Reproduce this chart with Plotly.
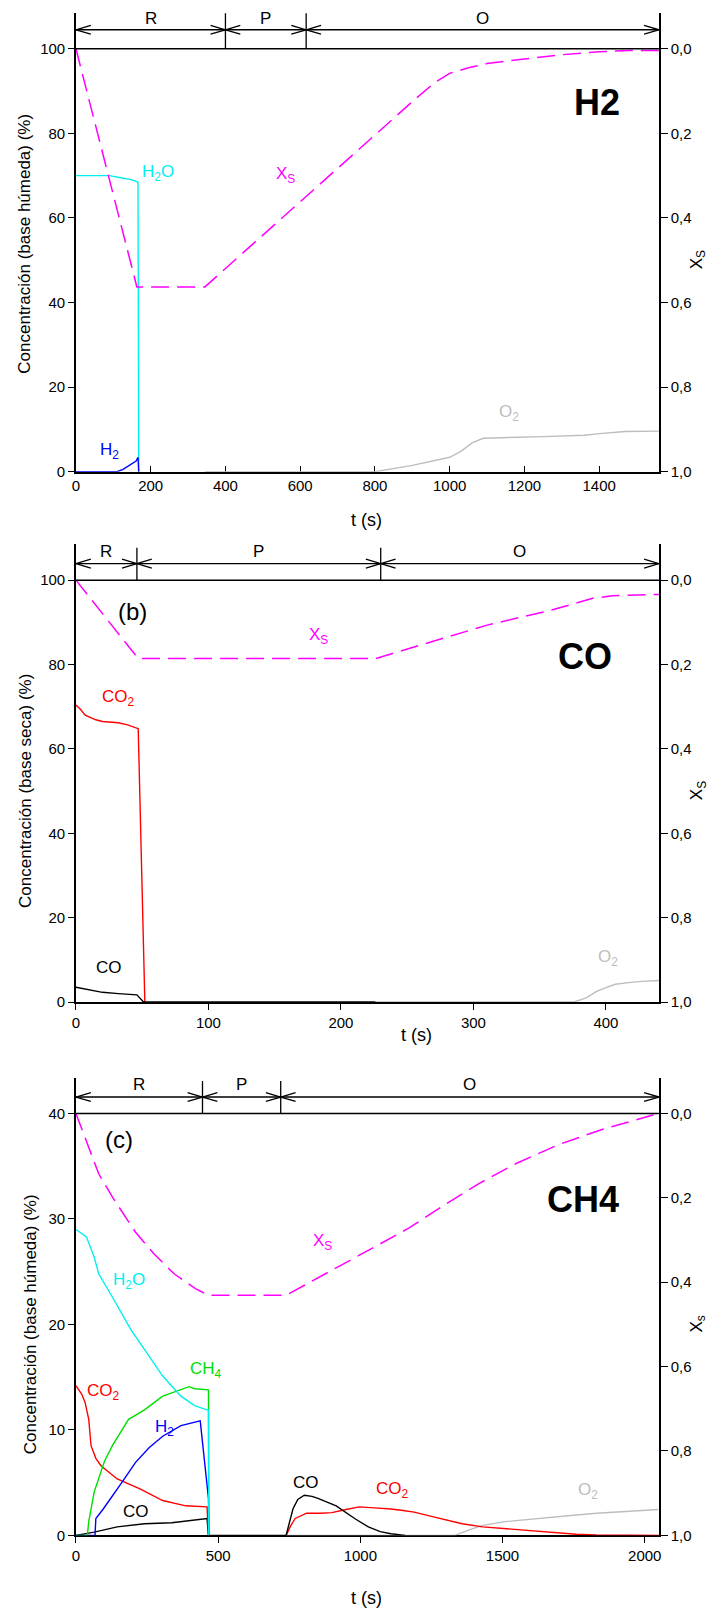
import plotly.graph_objects as go

# ================= DATA =================
# ---- Panel (a): H2 ----
h2_t_h2o = [0, 90, 120, 150, 166, 168]
h2_h2o = [70, 70, 69.5, 69.0, 68.5, 0]
h2_t_h2 = [0, 110, 126, 148, 161, 166, 168]
h2_h2 = [0, 0, 0.55, 1.7, 2.5, 3.4, 0]
h2_t_o2 = [345, 800, 900, 1000, 1030, 1060, 1090, 1150, 1250, 1360, 1400, 1470, 1560]
h2_o2 = [0, 0, 1.5, 3.4, 4.8, 6.8, 7.9, 8.0, 8.3, 8.6, 9.0, 9.5, 9.6]
h2_t_xs = [0, 163, 345, 816, 900, 960, 1000, 1050, 1100, 1200, 1300, 1400, 1480, 1560]
h2_xs = [0, 0.563, 0.563, 0.19, 0.125, 0.08, 0.058, 0.045, 0.035, 0.024, 0.014, 0.007, 0.004, 0.004]
h2_phase_t = [0, 400, 616, 1560]
h2_phase_lbl = ["R", "P", "O"]

# ---- Panel (b): CO ----
co_t_co2 = [0, 3, 7, 15, 20, 32, 39, 46, 47, 52]
co_co2 = [70.4, 69.5, 68.0, 66.9, 66.5, 66.2, 65.7, 64.9, 64.8, 0]
co_t_co = [0, 10, 20, 32, 46, 51, 226]
co_co = [3.5, 2.9, 2.3, 2.0, 1.7, 0, 0]
co_t_o2 = [226, 376, 385, 393, 400, 407, 417, 427, 440]
co_o2 = [0, 0, 1.0, 2.5, 3.4, 4.2, 4.6, 4.9, 5.1]
co_t_xs = [0, 47, 226, 311, 359, 390, 405, 440]
co_xs = [0, 0.186, 0.186, 0.106, 0.071, 0.043, 0.037, 0.034]
co_phase_t = [0, 46, 230, 440]
co_phase_lbl = ["R", "P", "O"]

# ---- Panel (c): CH4 ----
ch4_t_h2o = [0, 37, 64, 80, 128, 193, 257, 305, 369, 417, 461, 466, 467]
ch4_h2o = [29.0, 28.3, 26.4, 24.8, 22.6, 19.5, 17.0, 15.1, 13.2, 12.3, 11.9, 11.9, 0]
ch4_t_ch4 = [0, 40, 45, 64, 100, 128, 185, 241, 305, 353, 398, 417, 466, 467]
ch4_ch4 = [0, 0, 1.3, 4.1, 7.0, 8.5, 11.0, 11.9, 13.2, 13.7, 14.1, 13.9, 13.8, 0]
ch4_t_h2 = [0, 67, 70, 96, 161, 209, 257, 305, 369, 437, 466, 468]
ch4_h2 = [0, 0, 1.6, 2.5, 5.0, 6.9, 8.3, 9.4, 10.4, 10.85, 3.5, 0]
ch4_t_co2a = [0, 20, 32, 45, 53, 70, 88, 145, 225, 305, 386, 461, 466]
ch4_co2a = [14.2, 13.4, 12.6, 11.0, 8.5, 7.3, 6.6, 5.35, 4.4, 3.3, 2.8, 2.7, 0]
ch4_t_coa = [0, 64, 145, 241, 337, 402, 461, 466, 739]
ch4_coa = [0, 0.3, 0.8, 1.1, 1.2, 1.4, 1.6, 0, 0]
ch4_t_cob = [739, 750, 763, 780, 803, 830, 851, 915, 980, 1028, 1070, 1108, 1157]
ch4_cob = [0, 1.2, 2.5, 3.4, 3.8, 3.7, 3.5, 2.8, 1.6, 0.8, 0.35, 0.15, 0]
ch4_t_co2b = [739, 755, 771, 811, 860, 900, 950, 996, 1050, 1108, 1150, 1189, 1250,
              1317, 1358, 1430, 1518, 1600, 1679, 1760, 1830, 2050]
ch4_co2b = [0, 0.9, 1.6, 2.1, 2.1, 2.15, 2.45, 2.7, 2.6, 2.5, 2.35, 2.2, 1.8,
            1.4, 1.1, 0.8, 0.6, 0.4, 0.22, 0.1, 0.03, 0]
ch4_t_o2 = [739, 1333, 1380, 1430, 1510, 1600, 1671, 1750, 1831, 1950, 2048]
ch4_o2 = [0, 0, 0.5, 0.95, 1.3, 1.5, 1.7, 1.9, 2.1, 2.3, 2.45]
ch4_t_xs = [0, 40, 80, 130, 209, 273, 345, 420, 466, 739, 850, 1000, 1170, 1300,
            1420, 1550, 1700, 1850, 1950, 2048]
ch4_xs = [0, 0.07, 0.143, 0.2, 0.281, 0.332, 0.38, 0.415, 0.431, 0.431, 0.39, 0.333,
          0.272, 0.215, 0.165, 0.118, 0.073, 0.038, 0.018, 0.0]
ch4_phase_t = [0, 445, 720, 2050]
ch4_phase_lbl = ["R", "P", "O"]

# ticks
x_ticks_a = [0, 200, 400, 600, 800, 1000, 1200, 1400]
x_ticks_b = [0, 100, 200, 300, 400]
x_ticks_c = [0, 500, 1000, 1500, 2000]
y_ticks_ab = [0, 20, 40, 60, 80, 100]
y_ticks_c = [0, 10, 20, 30, 40]
xs_ticks = [0, 0.2, 0.4, 0.6, 0.8, 1.0]
xs_ticktext = ["0,0", "0,2", "0,4", "0,6", "0,8", "1,0"]

# ================= STYLE / LAYOUT =================
PAGE_W, PAGE_H = 721, 1621
OFF = 8                              # default body margin of the html page
W, H = PAGE_W - 2 * OFF, PAGE_H - 2 * OFF
NARROW = "Liberation Sans Narrow, Arial Narrow, Liberation Sans, Arial, sans-serif"
REG = "Liberation Sans, Arial, sans-serif"
C_H2O = "#00F0F0"
C_H2 = "#0000FF"
C_O2 = "#BDBDBD"
C_CO2 = "#FF0000"
C_CO = "#000000"
C_CH4 = "#00E000"
C_XS = "#FF00FF"


def px_x(p):      # page px -> paper fraction
    return (p - OFF) / W


def px_y(p):
    return 1 - (p - OFF) / H


X_L, X_R = 72.5, 660.5          # plot left/right in page px
TOPFRAC = 0.085                  # extra room above the full-scale line
panels_px = [(474, 49), (1007, 583), (1543, 1119)]   # (bottom, full-scale line) page px

fig = go.Figure()

panel_defs = [
    dict(xmax=1560, ymax=100, xticks=x_ticks_a, yticks=y_ticks_ab,
         ytitle="Concentración (base húmeda) (%)", ticks_x="inside",
         phase_t=h2_phase_t, phase_lbl=h2_phase_lbl, arrow_y=1.045,
         lbl_y=1.072, vtop=1.084, ytitle_px=(21, 245), xstitle="X<sub>S</sub>"),
    dict(xmax=440, ymax=100, xticks=x_ticks_b, yticks=y_ticks_ab,
         ytitle="Concentración (base seca) (%)", ticks_x="outside",
         phase_t=co_phase_t, phase_lbl=co_phase_lbl, arrow_y=1.039,
         lbl_y=1.069, vtop=1.077, ytitle_px=(21, 795), xstitle="X<sub>S</sub>"),
    dict(xmax=2050, ymax=40, xticks=x_ticks_c, yticks=y_ticks_c,
         ytitle="Concentración (base húmeda) (%)", ticks_x="outside",
         phase_t=ch4_phase_t, phase_lbl=ch4_phase_lbl, arrow_y=1.039,
         lbl_y=1.069, vtop=1.077, ytitle_px=(27, 1331), xstitle="X<sub>s</sub>"),
]

series = [
    [(h2_t_o2, h2_o2, C_O2), (h2_t_h2o, h2_h2o, C_H2O), (h2_t_h2, h2_h2, C_H2)],
    [(co_t_o2, co_o2, C_O2), (co_t_co2, co_co2, C_CO2), (co_t_co, co_co, C_CO)],
    [(ch4_t_o2, ch4_o2, C_O2), (ch4_t_co2b, ch4_co2b, C_CO2), (ch4_t_cob, ch4_cob, C_CO),
     (ch4_t_coa, ch4_coa, C_CO), (ch4_t_co2a, ch4_co2a, C_CO2), (ch4_t_h2, ch4_h2, C_H2),
     (ch4_t_ch4, ch4_ch4, C_CH4), (ch4_t_h2o, ch4_h2o, C_H2O)],
]
xs_series = [(h2_t_xs, h2_xs), (co_t_xs, co_xs), (ch4_t_xs, ch4_xs)]

annotations = []
shapes = []
layout = {}

for i, pd_ in enumerate(panel_defs):
    n = i + 1
    xa = "x" if n == 1 else f"x{n}"
    ya = "y" if n == 1 else f"y{2 * n - 1}"
    ya2 = f"y{2 * n}"
    xkey = "xaxis" if n == 1 else f"xaxis{n}"
    ykey = "yaxis" if n == 1 else f"yaxis{2 * n - 1}"
    y2key = f"yaxis{2 * n}"
    bot, top100 = panels_px[i]
    h100 = bot - top100
    top = top100 - TOPFRAC * h100
    dom = [px_y(bot), px_y(top)]
    ymax = pd_["ymax"]
    xmax = pd_["xmax"]

    common = dict(showline=True, linecolor="black", linewidth=1.5, showgrid=False,
                  zeroline=False, tickcolor="black", tickwidth=1.2,
                  tickfont=dict(family=NARROW, size=15, color="black"),
                  layer="below traces")
    layout[xkey] = dict(domain=[px_x(X_L), px_x(X_R)], range=[0, xmax], anchor=ya,
                        tickvals=pd_["xticks"], ticks=pd_["ticks_x"], ticklen=6, **common)
    layout[ykey] = dict(domain=dom, range=[0, ymax * (1 + TOPFRAC)], anchor=xa,
                        tickvals=pd_["yticks"], ticks="outside", ticklen=6, **common)
    layout[y2key] = dict(overlaying=ya, side="right", anchor=xa,
                         range=[1, -TOPFRAC], tickvals=xs_ticks, ticktext=xs_ticktext,
                         ticks="outside", ticklen=7, **common)

    for (tt, vv, col) in series[i]:
        fig.add_trace(go.Scatter(x=tt, y=vv, mode="lines", xaxis=xa, yaxis=ya,
                                 line=dict(color=col, width=1.4), showlegend=False,
                                 hoverinfo="skip"))
    tx, vx = xs_series[i]
    fig.add_trace(go.Scatter(x=tx, y=vx, mode="lines", xaxis=xa, yaxis=ya2,
                             line=dict(color=C_XS, width=1.5, dash="18px,8px"),
                             showlegend=False, hoverinfo="skip"))

    # top frame line at full scale
    shapes.append(dict(type="line", xref=xa, yref=ya, x0=0, x1=xmax, y0=ymax, y1=ymax,
                       line=dict(color="black", width=1.5)))
    # phase markers
    pt = pd_["phase_t"]
    ay = pd_["arrow_y"] * ymax
    ux = xmax / (X_R - X_L)
    uy = ymax / h100
    Lx, Hy = 15 * ux, 4.5 * uy
    for b in pt[1:-1]:
        shapes.append(dict(type="line", xref=xa, yref=ya, x0=b, x1=b, y0=ymax,
                           y1=pd_["vtop"] * ymax, line=dict(color="black", width=1.3)))
    ax_, ay_ = [], []
    for k in range(len(pt) - 1):
        a, b = pt[k], pt[k + 1]
        ax_ += [a, b, None, a + Lx, a, a + Lx, None, b - Lx, b, b - Lx, None]
        ay_ += [ay, ay, None, ay + Hy, ay, ay - Hy, None, ay + Hy, ay, ay - Hy, None]
        annotations.append(dict(x=(a + b) / 2, y=pd_["lbl_y"] * ymax, xref=xa, yref=ya,
                                text=pd_["phase_lbl"][k], showarrow=False,
                                xanchor="center", yanchor="middle",
                                font=dict(family=NARROW, size=17, color="black")))
    fig.add_trace(go.Scatter(x=ax_, y=ay_, mode="lines", xaxis=xa, yaxis=ya,
                             line=dict(color="black", width=1.3), showlegend=False,
                             hoverinfo="skip", cliponaxis=False))
    # left axis title
    tx_px, ty_px = pd_["ytitle_px"]
    annotations.append(dict(x=px_x(tx_px), y=px_y(ty_px), xref="paper", yref="paper",
                            text=pd_["ytitle"], textangle=-90, showarrow=False,
                            xanchor="center", yanchor="middle",
                            font=dict(family=REG, size=17, color="black")))
    # right axis title
    annotations.append(dict(x=px_x(700), y=px_y((bot + top100) / 2), xref="paper",
                            yref="paper", text=pd_["xstitle"], textangle=-90,
                            showarrow=False, xanchor="center", yanchor="middle",
                            font=dict(family=REG, size=17, color="black")))

# x-axis titles
for (xx, yy, xr) in [(px_x(366), px_y(523), "paper"), (257, px_y(1040), "x2"),
                     (px_x(366), px_y(1606), "paper")]:
    annotations.append(dict(x=xx, y=yy, xref=xr, yref="paper", text="t (s)",
                            showarrow=False, xanchor="center", yanchor="middle",
                            font=dict(family=NARROW, size=18, color="black")))

# in-plot labels
labels = [
    ("H<sub>2</sub>O", 220, 70.6, "x", "y", C_H2O, 17),
    ("X<sub>S</sub>", 561, 70.2, "x", "y", C_XS, 17),
    ("O<sub>2</sub>", 1159, 13.8, "x", "y", C_O2, 17),
    ("H<sub>2</sub>", 91, 4.8, "x", "y", C_H2, 17),
    ("X<sub>S</sub>", 183, 86.7, "x2", "y3", C_XS, 17),
    ("CO<sub>2</sub>", 32, 72, "x2", "y3", C_CO2, 17),
    ("CO", 25, 8.2, "x2", "y3", C_CO, 17),
    ("O<sub>2</sub>", 401.7, 10.4, "x2", "y3", C_O2, 17),
    ("X<sub>S</sub>", 868, 27.8, "x3", "y5", C_XS, 17),
    ("H<sub>2</sub>O", 185, 24.1, "x3", "y5", C_H2O, 17),
    ("CH<sub>4</sub>", 458, 15.7, "x3", "y5", C_CH4, 17),
    ("CO<sub>2</sub>", 96, 13.6, "x3", "y5", C_CO2, 17),
    ("H<sub>2</sub>", 313, 10.2, "x3", "y5", C_H2, 17),
    ("CO", 212, 2.3, "x3", "y5", C_CO, 17),
    ("CO", 808, 5.0, "x3", "y5", C_CO, 17),
    ("CO<sub>2</sub>", 1112, 4.3, "x3", "y5", C_CO2, 17),
    ("O<sub>2</sub>", 1800, 4.2, "x3", "y5", C_O2, 17),
    ("(b)", 42.3, 92.5, "x2", "y3", "black", 24),
    ("(c)", 153, 37.5, "x3", "y5", "black", 24),
]
for (txt, x, y, xr, yr, col, sz) in labels:
    annotations.append(dict(x=x, y=y, xref=xr, yref=yr, text=txt, showarrow=False,
                            xanchor="center", yanchor="middle",
                            font=dict(family=NARROW, size=sz, color=col)))

big = [("H2", 1394, 87.2, "x", "y"), ("CO", 384.5, 82, "x2", "y3"),
       ("CH4", 1783, 31.8, "x3", "y5")]
for (txt, x, y, xr, yr) in big:
    annotations.append(dict(x=x, y=y, xref=xr, yref=yr, text=f"<b>{txt}</b>",
                            showarrow=False, xanchor="center", yanchor="middle",
                            font=dict(family=NARROW, size=36, color="black")))

fig.update_layout(width=W, height=H, margin=dict(l=0, r=0, t=0, b=0),
                  plot_bgcolor="white", paper_bgcolor="white",
                  showlegend=False, annotations=annotations, shapes=shapes, **layout)

fig.write_html("out.html")
